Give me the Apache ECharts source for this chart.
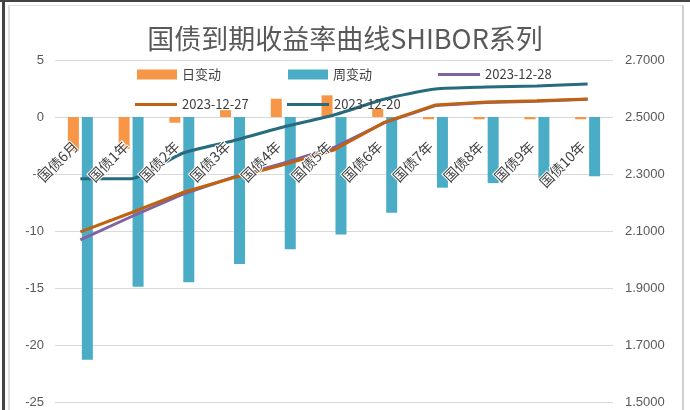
<!DOCTYPE html>
<html>
<head>
<meta charset="utf-8">
<script src="https://cdn.jsdelivr.net/npm/echarts@6/dist/echarts.min.js"></script>
<style>
  html, body { margin: 0; padding: 0; background: #fff; }
  #main { width: 690px; height: 410px; }
</style>
</head>
<body>
<div id="main"></div>
<script>
	var chart = echarts.init(document.getElementById('main'));

	// 期限
	const categories = ['国债6月', '国债1年', '国债2年', '国债3年', '国债4年', '国债5年', '国债6年', '国债7年', '国债8年', '国债9年', '国债10年'];
	// 变动 (bp), 左轴
	const dayChange = [-3.0, -2.8, -0.5, 0.6, 1.6, 1.9, 0.7, -0.2, -0.2, -0.2, -0.2];
	const weekChange = [-21.3, -14.9, -14.5, -12.9, -11.6, -10.3, -8.4, -6.2, -5.8, -5.6, -5.2];
	// 收益率 (%), 右轴
	const y20231228 = [2.069, 2.150, 2.228, 2.288, 2.338, 2.393, 2.480, 2.540, 2.551, 2.555, 2.562];
	const y20231227 = [2.097, 2.164, 2.234, 2.286, 2.332, 2.384, 2.482, 2.542, 2.553, 2.557, 2.563];
	const y20231220 = [2.283, 2.283, 2.372, 2.416, 2.465, 2.507, 2.563, 2.598, 2.605, 2.609, 2.616];

	const leftTicks = { min: -25, max: 5, interval: 5 };
	const rightTicks = { min: 1.5, max: 2.7, interval: 0.2 };

	const labelColor = '#595959';
	const cjk = 'Noto Sans CJK SC';

	function legendItem(name, left, top, w, h) {
		return {
			data: [name],
			left: left,
			top: top,
			itemWidth: w,
			itemHeight: h,
			icon: 'rect',
			textStyle: { color: '#404040', fontSize: 13, fontFamily: cjk }
		};
	}

	option = {
		backgroundColor: '#fff',
		animation: false,
		title: {
			text: '国债到期收益率曲线SHIBOR系列',
			left: 'center',
			top: 20,
			textStyle: {
				color: '#595959',
				fontSize: 27,
				fontWeight: 'normal',
				fontFamily: cjk
			}
		},
		color: ['#F79646', '#4BACC6', '#8064A2', '#C0620F', '#266B7E'],
		legend: [
			legendItem('日变动', 132, 63, 40, 10),
			legendItem('周变动', 283, 63, 40, 10),
			legendItem('2023-12-28', 433, 63, 42, 3),
			legendItem('2023-12-27', 130, 93, 42, 3),
			legendItem('2023-12-20', 282, 93, 42, 3)
		],
		grid: [
			{ left: 55, right: 77, top: 60, bottom: 8, outerBoundsMode: 'none' },
			// 只放类目标签, 底边在0线
			{ left: 55, right: 77, top: 60, height: 57, outerBoundsMode: 'none', z: 10 }
		],
		xAxis: [{
			type: 'category',
			data: categories,
			axisLine: { show: false, onZero: false },
			axisTick: { show: false },
			axisLabel: { show: false }
		}, {
			type: 'category',
			gridIndex: 1,
			data: categories,
			position: 'bottom',
			axisLine: { show: false, onZero: false },
			axisTick: { show: false },
			axisLabel: {
				rotate: 45,
				margin: 22,
				padding: [0, 7, 0, 0],
				interval: 0,
				color: '#404040',
				fontSize: 14,
				fontFamily: cjk,
				textBorderColor: '#fff',
				textBorderWidth: 2
			},
			z: 10
		}],
		yAxis: [{
			type: 'value',
			min: leftTicks.min,
			max: leftTicks.max,
			interval: leftTicks.interval,
			axisLine: { show: false },
			axisTick: { show: false },
			axisLabel: { color: labelColor, fontSize: 13, margin: 11 },
			splitLine: { lineStyle: { color: '#D9D9D9' } }
		}, {
			type: 'value',
			position: 'right',
			min: rightTicks.min,
			max: rightTicks.max,
			interval: rightTicks.interval,
			axisLine: { show: false },
			axisTick: { show: false },
			axisLabel: {
				color: labelColor,
				fontSize: 13,
				margin: 12,
				formatter: function(v) { return v.toFixed(4); }
			},
			splitLine: { show: false }
		}, {
			type: 'value',
			gridIndex: 1,
			show: false
		}],
		graphic: [
			{ type: 'rect', shape: { x: 2, y: 0, width: 3, height: 410 }, style: { fill: '#444' } },
			{ type: 'rect', shape: { x: 8, y: 5, width: 2, height: 405 }, style: { fill: '#E0E0E0' } },
			{ type: 'rect', shape: { x: 0, y: 0, width: 690, height: 2 }, style: { fill: '#444' } },
			{ type: 'rect', shape: { x: 8, y: 5, width: 676, height: 1 }, style: { fill: '#E0E0E0' } },
			{ type: 'rect', shape: { x: 682, y: 5, width: 2, height: 405 }, style: { fill: '#D0D0D0' } }
		],
		series: [{
			name: '日变动',
			type: 'bar',
			barWidth: 11,
			barGap: '27%',
			data: dayChange
		}, {
			name: '周变动',
			type: 'bar',
			barWidth: 11,
			barGap: '27%',
			data: weekChange
		}, {
			name: '2023-12-28',
			type: 'line',
			yAxisIndex: 1,
			symbol: 'none',
			lineStyle: { width: 3 },
			data: y20231228
		}, {
			name: '2023-12-27',
			type: 'line',
			yAxisIndex: 1,
			symbol: 'none',
			lineStyle: { width: 3 },
			data: y20231227
		}, {
			name: '2023-12-20',
			type: 'line',
			yAxisIndex: 1,
			symbol: 'none',
			smooth: 0.2,
			lineStyle: { width: 3 },
			data: y20231220
		}]
	};

	chart.setOption(option);

	window.onresize = function() {
		chart.resize();
	}
</script>
</body>
</html>
